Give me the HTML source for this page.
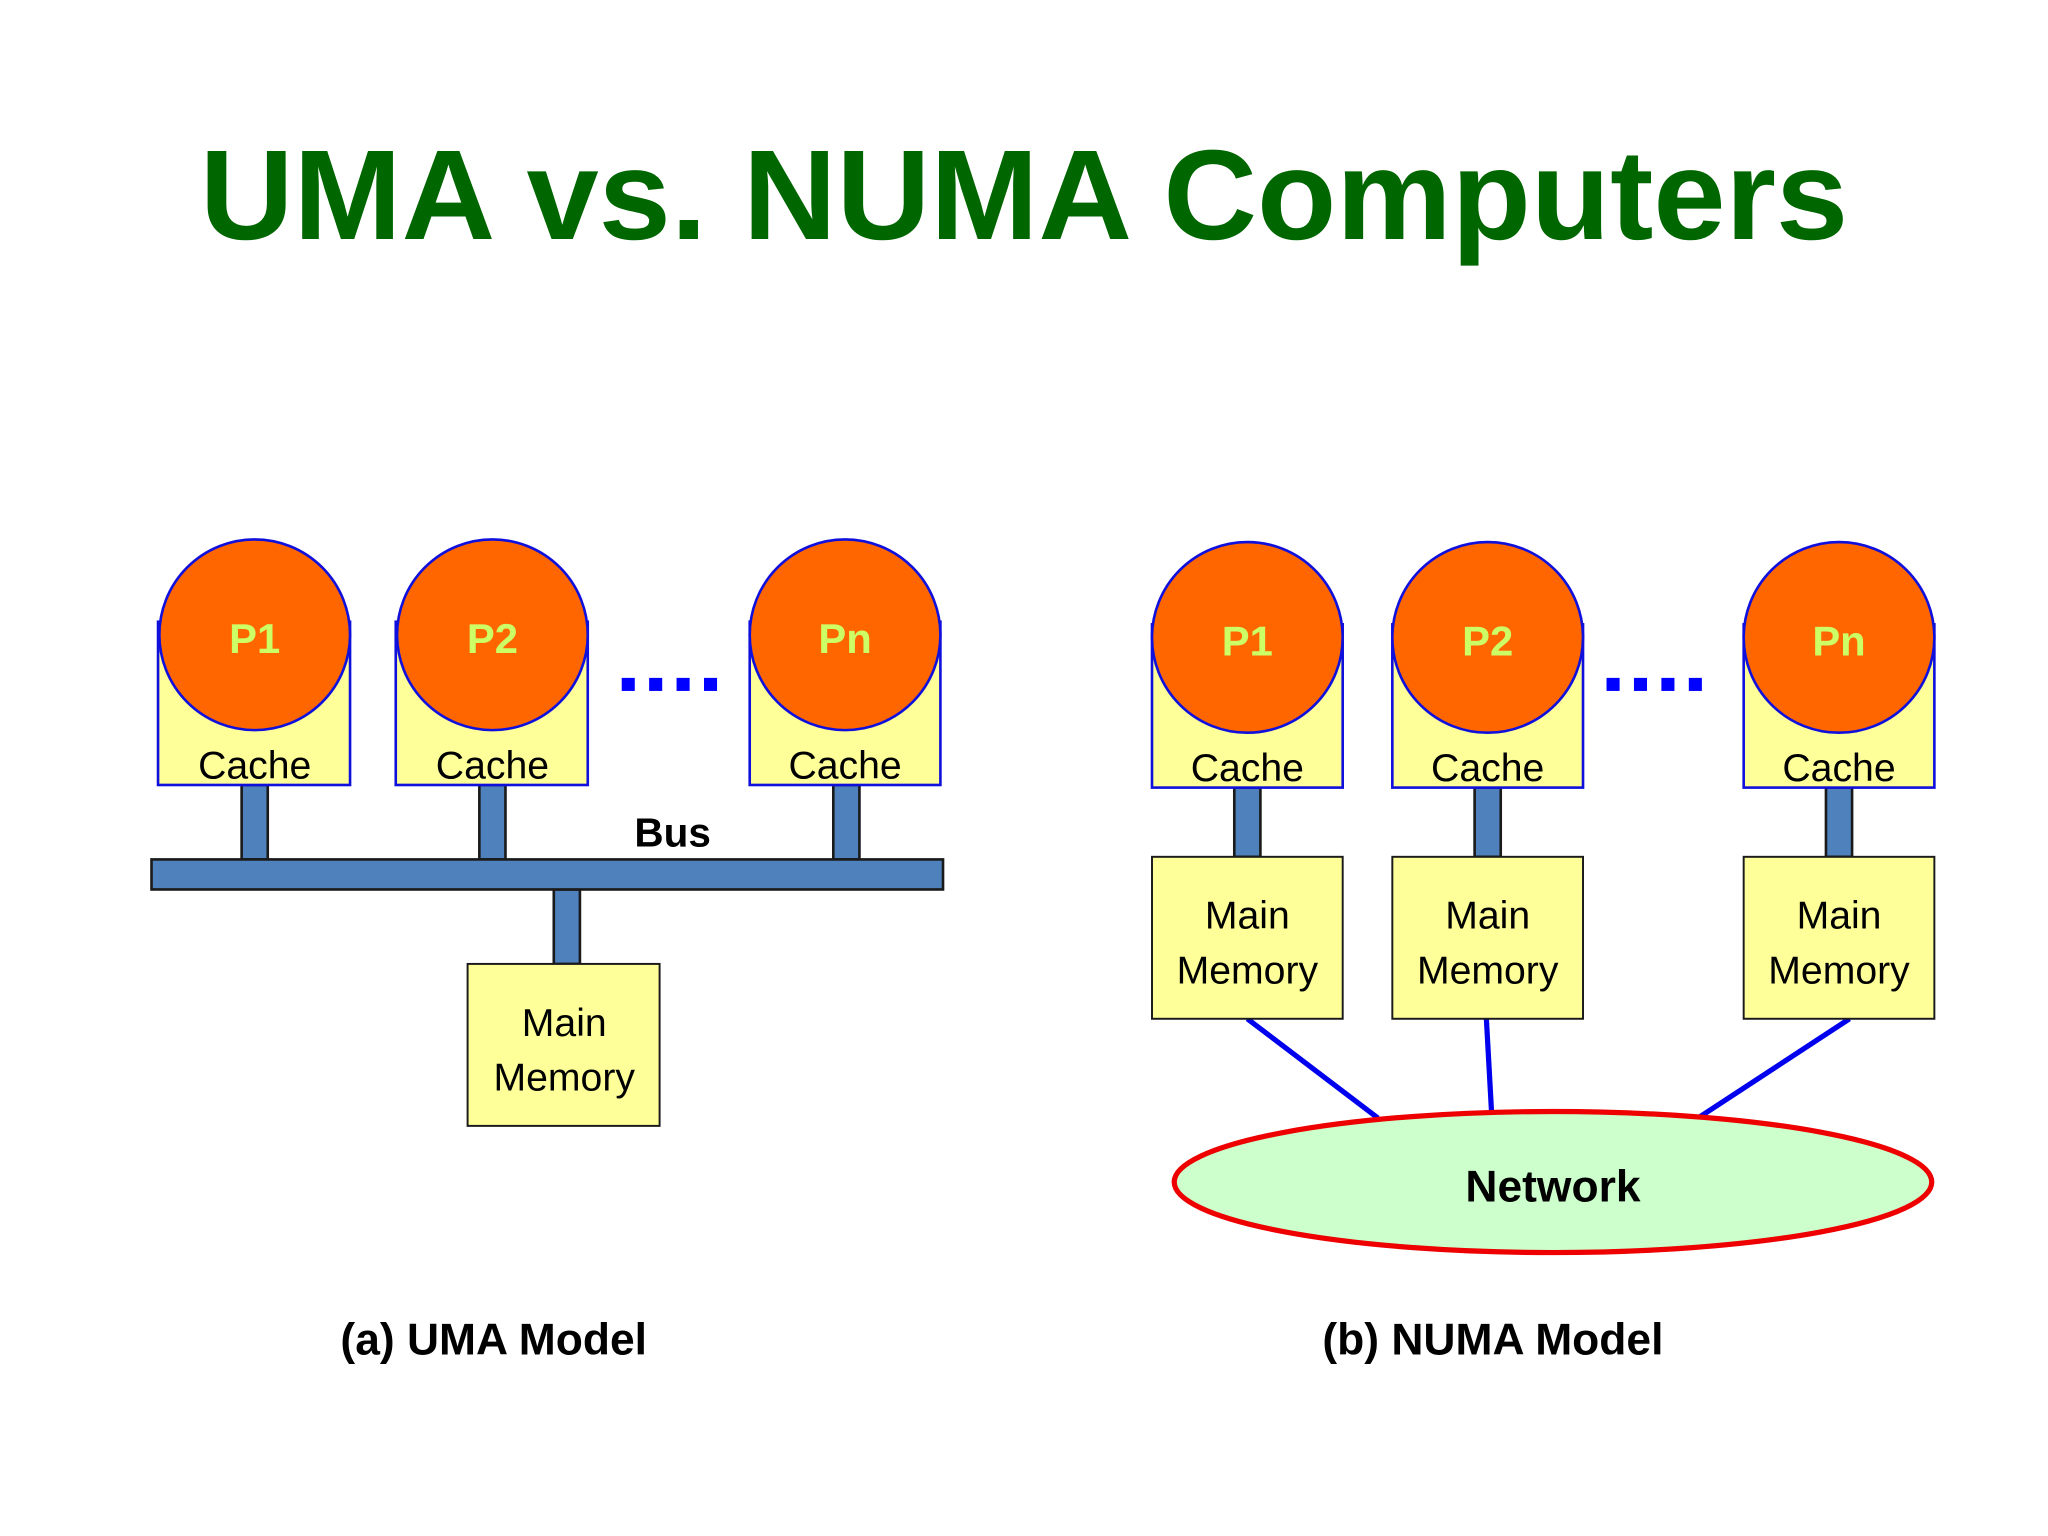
<!DOCTYPE html>
<html><head><meta charset="utf-8"><style>
html,body{margin:0;padding:0;background:#fff;}
svg{display:block;}
text{font-family:"Liberation Sans",sans-serif;}
</style></head><body>
<svg width="2048" height="1536" viewBox="0 0 1568 1176" xmlns="http://www.w3.org/2000/svg">
<rect width="1568" height="1176" fill="#fff"/>
<text x="784" y="183" text-anchor="middle" font-size="98" font-weight="bold" fill="#006600" textLength="1262" lengthAdjust="spacingAndGlyphs">UMA vs. NUMA Computers</text>

<!-- UMA -->
<g stroke="#1a1a1a" stroke-width="2" fill="#4f81bd">
<rect x="185" y="601" width="20" height="57"/>
<rect x="367" y="601" width="20" height="57"/>
<rect x="638" y="601" width="20" height="57"/>
<rect x="424" y="681" width="20" height="57"/>
<rect x="116" y="658" width="606" height="23"/>
</g>
<g stroke="#1010dd" stroke-width="2">
<rect x="121" y="476" width="147" height="125" fill="#ffff99"/>
<rect x="303" y="476" width="147" height="125" fill="#ffff99"/>
<rect x="574" y="476" width="146" height="125" fill="#ffff99"/>
<circle cx="195" cy="486" r="73" fill="#ff6600"/>
<circle cx="377" cy="486" r="73" fill="#ff6600"/>
<circle cx="647" cy="486" r="73" fill="#ff6600"/>
</g>
<rect x="358" y="738" width="147" height="124" fill="#ffff99" stroke="#1a1a1a" stroke-width="1.5"/>
<g font-size="32" font-weight="bold" fill="#ccff66" text-anchor="middle">
<text x="195" y="500">P1</text><text x="377" y="500">P2</text><text x="647" y="500">Pn</text>
</g>
<g font-size="30" fill="#000" text-anchor="middle">
<text x="195" y="596">Cache</text><text x="377" y="596">Cache</text><text x="647" y="596">Cache</text>
<text x="432" y="793">Main</text><text x="432" y="835">Memory</text>
</g>
<text x="515" y="648" font-size="31" font-weight="bold" text-anchor="middle">Bus</text>
<g fill="#0000ff"><rect x="476" y="519" width="10" height="10"/><rect x="497" y="519" width="10" height="10"/><rect x="518" y="519" width="10" height="10"/><rect x="539" y="519" width="10" height="10"/></g>

<!-- NUMA -->
<g stroke="#0000ee" stroke-width="4">
<line x1="955" y1="780" x2="1055" y2="856"/>
<line x1="1138" y1="780" x2="1142" y2="852"/>
<line x1="1416" y1="780" x2="1300" y2="856"/>
</g>
<ellipse cx="1189" cy="905" rx="290" ry="54" fill="#ccffcc" stroke="#ee0000" stroke-width="4"/>
<text x="1189" y="920" font-size="34" font-weight="bold" text-anchor="middle">Network</text>
<g stroke="#1a1a1a" stroke-width="2" fill="#4f81bd">
<rect x="945" y="603" width="20" height="53"/>
<rect x="1129" y="603" width="20" height="53"/>
<rect x="1398" y="603" width="20" height="53"/>
</g>
<g stroke="#1010dd" stroke-width="2">
<rect x="882" y="478" width="146" height="125" fill="#ffff99"/>
<rect x="1066" y="478" width="146" height="125" fill="#ffff99"/>
<rect x="1335" y="478" width="146" height="125" fill="#ffff99"/>
<circle cx="955" cy="488" r="73" fill="#ff6600"/>
<circle cx="1139" cy="488" r="73" fill="#ff6600"/>
<circle cx="1408" cy="488" r="73" fill="#ff6600"/>
</g>
<g fill="#ffff99" stroke="#1a1a1a" stroke-width="1.5">
<rect x="882" y="656" width="146" height="124"/>
<rect x="1066" y="656" width="146" height="124"/>
<rect x="1335" y="656" width="146" height="124"/>
</g>
<g font-size="32" font-weight="bold" fill="#ccff66" text-anchor="middle">
<text x="955" y="502">P1</text><text x="1139" y="502">P2</text><text x="1408" y="502">Pn</text>
</g>
<g font-size="30" fill="#000" text-anchor="middle">
<text x="955" y="598">Cache</text><text x="1139" y="598">Cache</text><text x="1408" y="598">Cache</text>
<text x="955" y="711">Main</text><text x="955" y="753">Memory</text>
<text x="1139" y="711">Main</text><text x="1139" y="753">Memory</text>
<text x="1408" y="711">Main</text><text x="1408" y="753">Memory</text>
</g>
<g fill="#0000ff"><rect x="1230" y="519" width="10" height="10"/><rect x="1251" y="519" width="10" height="10"/><rect x="1272" y="519" width="10" height="10"/><rect x="1293" y="519" width="10" height="10"/></g>

<g font-size="34" font-weight="bold" text-anchor="middle">
<text x="378" y="1037">(a) UMA Model</text>
<text x="1143" y="1037">(b) NUMA Model</text>
</g>
</svg>
</body></html>
